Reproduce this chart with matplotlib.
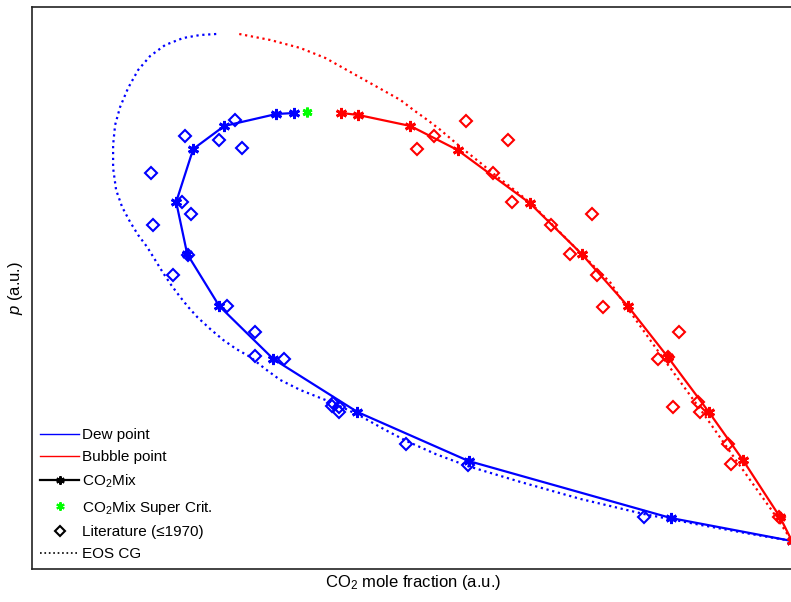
import matplotlib.pyplot as plt
from matplotlib.lines import Line2D

plt.rcParams['font.family'] = ['Liberation Sans', 'DejaVu Sans']
plt.rcParams['mathtext.fontset'] = 'custom'
plt.rcParams['mathtext.rm'] = 'Liberation Sans'
plt.rcParams['mathtext.it'] = 'Liberation Sans:italic'

# CO2Mix dew line (a.u.)
dew_x = [262, 244, 192, 161, 144, 155, 187, 241, 325, 436, 638, 759]
dew_y = [456, 455, 443, 420, 367, 315, 263, 210, 157, 108, 51, 28]

# CO2Mix bubble line (a.u.)
bub_x = [309, 326, 378, 425, 497, 549, 595, 635, 676, 710, 747, 759]
bub_y = [456, 454, 443, 419, 366, 315, 263, 212, 157, 109, 52, 28]

# supercritical point
crit_x = [275]
crit_y = [457]

# literature data (<=1970)
lit_dew_x = [119, 150, 159, 121, 156, 141, 195, 223, 223, 252, 153, 187, 203, 210,
             301, 307, 307, 300, 374, 435, 611]
lit_dew_y = [396, 367, 355, 344, 314, 294, 263, 237, 213, 210, 433, 429, 449, 421,
             166, 162, 157, 163, 125, 104, 52]
lit_bub_x = [433, 475, 401, 385, 460, 479, 518, 559, 537, 564, 570, 646, 625, 635,
             640, 665, 667, 695, 698, 746]
lit_bub_y = [448, 429, 433, 420, 396, 367, 344, 355, 315, 294, 262, 237, 210, 212,
             162, 167, 157, 125, 105, 52]

# EOS CG curves
eos_dew_x = [184, 168, 151, 133, 118, 106, 96, 88, 83, 81, 81, 84, 90, 98, 106,
             115, 123, 131, 139, 148, 156, 165, 178, 191, 204, 218, 233, 248,
             268, 288, 301, 328, 353, 374, 403, 435, 488, 548, 611, 668, 718, 759]
eos_dew_y = [535, 534, 531, 524, 513, 499, 481, 462, 444, 424, 401, 379, 362, 347, 334,
             322, 309, 296, 284, 272, 262, 252, 240, 229, 220, 212, 200, 189,
             179, 171, 166, 153, 139, 128, 115, 103, 87, 70, 55, 44, 35, 28]
eos_bub_x = [207, 238, 268, 293, 318, 343, 368, 381, 395, 408, 428, 448, 465, 478,
             498, 518, 538, 558, 578, 589, 628, 668, 703, 740, 759]
eos_bub_y = [535, 529, 521, 511, 497, 483, 469, 459, 449, 439, 422, 406, 392, 382,
             366, 346, 326, 306, 286, 269, 214, 159, 109, 57, 28]

star = (6, 2, 0)

fig = plt.figure(figsize=(7.91, 6.02), dpi=100)
ax = fig.add_axes([32 / 791, 33 / 602, 1.005 - 32 / 791, 562 / 602])

ax.plot(eos_dew_x, eos_dew_y, ':', color='blue', lw=1.6)
ax.plot(eos_bub_x, eos_bub_y, ':', color='red', lw=1.6)
ax.plot(dew_x, dew_y, '-', color='blue', lw=1.6, marker=star, ms=8, mew=2)
ax.plot(bub_x, bub_y, '-', color='red', lw=1.6, marker=star, ms=8, mew=2)
ax.plot(lit_dew_x, lit_dew_y, 'D', color='blue', mfc='none', ms=6, mew=1.5)
ax.plot(lit_bub_x, lit_bub_y, 'D', color='red', mfc='none', ms=6, mew=1.5)
ax.plot(crit_x, crit_y, ls='none', color='#00ff00', marker=star, ms=7, mew=2)

ax.set_xlim(0, 762)
ax.set_ylim(0, 562)
ax.set_xticks([])
ax.set_yticks([])
for s in ax.spines.values():
    s.set_linewidth(1.2)
    s.set_color('#222222')

ax.set_xlabel('CO$_2$ mole fraction (a.u.)', fontsize=12, labelpad=3)
ax.set_ylabel('$\\it{p}$ (a.u.)', fontsize=12, labelpad=5)

handles = [
    Line2D([], [], color='blue', lw=1),
    Line2D([], [], color='red', lw=1),
    Line2D([], [], color='black', lw=1.6, marker=star, ms=6, mew=1.5),
    Line2D([], [], ls='none', color='#00ff00', marker=star, ms=6, mew=1.5),
    Line2D([], [], ls='none', color='black', marker='D', mfc='none', ms=5, mew=1.5),
    Line2D([], [], color='black', ls=':', lw=1.2),
]
labels = ['Dew point', 'Bubble point', 'CO$_2$Mix', 'CO$_2$Mix Super Crit.',
          'Literature (≤1970)', 'EOS CG']
ax.legend(handles, labels, loc='lower left', frameon=False, fontsize=11,
          handlelength=2.6, handletextpad=0.15, labelspacing=0.55,
          borderaxespad=0.2, borderpad=0.3)

fig.savefig('out.png', dpi=100)
